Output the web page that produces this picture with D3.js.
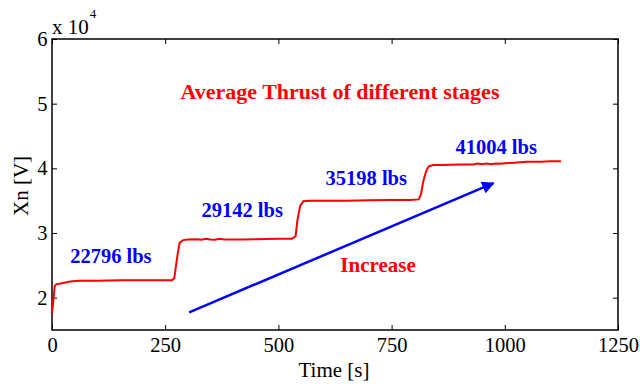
<!DOCTYPE html>
<html><head><meta charset="utf-8">
<script src="https://cdn.jsdelivr.net/npm/d3@7"></script>
<style>body{margin:0;background:#fff}svg{display:block}</style>
</head><body>
<svg id="c" width="640" height="384"></svg>
<script>
const xTicks = [0, 250, 500, 750, 1000, 1250];
const yTicks = [2, 3, 4, 5, 6];
const timeS = [0, 3, 6, 10, 20, 40, 60, 100, 150, 200, 250, 265, 270, 274, 278, 282, 290, 300, 320, 330, 340, 350, 360, 370, 380, 400, 420, 450, 500, 530, 538, 542, 548, 555, 570, 600, 650, 700, 750, 790, 810, 815, 820, 826, 832, 842, 860, 900, 930, 940, 950, 960, 970, 980, 990, 1000, 1020, 1050, 1080, 1100, 1124];
const xnVal = [1.76, 1.95, 2.18, 2.21, 2.22, 2.25, 2.26, 2.26, 2.27, 2.27, 2.27, 2.27, 2.30, 2.50, 2.70, 2.85, 2.89, 2.90, 2.905, 2.895, 2.91, 2.90, 2.895, 2.91, 2.90, 2.90, 2.90, 2.905, 2.91, 2.91, 2.95, 3.20, 3.42, 3.49, 3.50, 3.50, 3.50, 3.505, 3.51, 3.51, 3.52, 3.60, 3.80, 3.95, 4.03, 4.05, 4.05, 4.06, 4.06, 4.075, 4.065, 4.075, 4.065, 4.075, 4.07, 4.08, 4.085, 4.10, 4.10, 4.11, 4.11];
const labelTexts = ["22796 lbs", "29142 lbs", "35198 lbs", "41004 lbs"];
const labelT = [130, 420, 694, 981];
const labelV = [2.53, 3.25, 3.74, 4.22];
const arrowT = [303, 975];
const arrowV = [1.774, 3.77];
const titleText = "Average Thrust of different stages";
const titlePos = [636, 5.07];
const increasePos = [720, 2.40];

const svg = d3.select("#c");
const m = {l: 52, r: 618, t: 39, b: 330};
const x = d3.scaleLinear().domain([0, 1250]).range([m.l, m.r]);
const y = d3.scaleLinear().domain([1.5, 6]).range([m.b, m.t]);
const font = "Liberation Serif";

const defs = svg.append("defs");
defs.append("marker").attr("id", "ah").attr("viewBox", "0 0 10 10")
  .attr("refX", 9).attr("refY", 5).attr("markerWidth", 6.5).attr("markerHeight", 5)
  .attr("markerUnits", "strokeWidth").attr("orient", "auto")
  .append("path").attr("d", "M0,0 L10,5 L0,10 Z").attr("fill", "#0000ff");

const ax = svg.append("g");
function styleAxis(g, hideText) {
  g.select(".domain").remove();
  g.selectAll(".tick line").attr("stroke", "#000").attr("stroke-width", 1);
  g.selectAll(".tick text").attr("font-family", font).attr("font-size", 20.5).attr("fill", "#000");
  if (hideText) g.selectAll(".tick text").remove();
}
const gxb = ax.append("g").attr("transform", `translate(0,${m.b})`)
  .call(d3.axisBottom(x).tickValues(xTicks).tickSize(-5).tickPadding(7).tickFormat(d3.format("d")));
styleAxis(gxb);
const gxt = ax.append("g").attr("transform", `translate(0,${m.t})`)
  .call(d3.axisTop(x).tickValues(xTicks).tickSize(-5));
styleAxis(gxt, true);
const gyl = ax.append("g").attr("transform", `translate(${m.l},0)`)
  .call(d3.axisLeft(y).tickValues(yTicks).tickSize(-5).tickPadding(4.5).tickFormat(d3.format("d")));
styleAxis(gyl);
const gyr = ax.append("g").attr("transform", `translate(${m.r},0)`)
  .call(d3.axisRight(y).tickValues(yTicks).tickSize(-5));
styleAxis(gyr, true);
svg.append("rect").attr("x", m.l).attr("y", m.t).attr("width", m.r - m.l).attr("height", m.b - m.t)
  .attr("fill", "none").attr("stroke", "#000").attr("stroke-width", 1.5);

const pts = timeS.map((t, i) => [t, xnVal[i]]);
svg.append("path").datum(pts)
  .attr("d", d3.line().x(d => x(d[0])).y(d => y(d[1])))
  .attr("fill", "none").attr("stroke", "#ff0000").attr("stroke-width", 2);

svg.append("line").attr("x1", x(arrowT[0])).attr("y1", y(arrowV[0]))
  .attr("x2", x(arrowT[1])).attr("y2", y(arrowV[1]))
  .attr("stroke", "#0000ff").attr("stroke-width", 2.5).attr("marker-end", "url(#ah)");

labelTexts.forEach((s, i) => {
  svg.append("text").attr("x", x(labelT[i])).attr("y", y(labelV[i]))
    .attr("text-anchor", "middle").attr("font-family", font).attr("font-weight", "bold")
    .attr("font-size", 20.5).attr("fill", "#0000ff").text(s);
});
svg.append("text").attr("x", x(titlePos[0])).attr("y", y(titlePos[1])).attr("text-anchor", "middle")
  .attr("font-family", font).attr("font-weight", "bold").attr("font-size", 22)
  .attr("fill", "#ff0000").text(titleText);
svg.append("text").attr("x", x(increasePos[0])).attr("y", y(increasePos[1])).attr("text-anchor", "middle")
  .attr("font-family", font).attr("font-weight", "bold").attr("font-size", 21)
  .attr("fill", "#ff0000").text("Increase");

svg.append("text").attr("x", 334).attr("y", 377).attr("text-anchor", "middle")
  .attr("font-family", font).attr("font-size", 21).text("Time [s]");
svg.append("text").attr("transform", "translate(28,186) rotate(-90)").attr("text-anchor", "middle")
  .attr("font-family", font).attr("font-size", 21).text("Xn [V]");
const ex = svg.append("text").attr("x", 52).attr("y", 33.5).attr("font-family", font).attr("font-size", 21);
ex.append("tspan").text("x 10");
ex.append("tspan").attr("dy", -16).attr("dx", 1).attr("font-size", 13).text("4");
</script>
</body></html>
